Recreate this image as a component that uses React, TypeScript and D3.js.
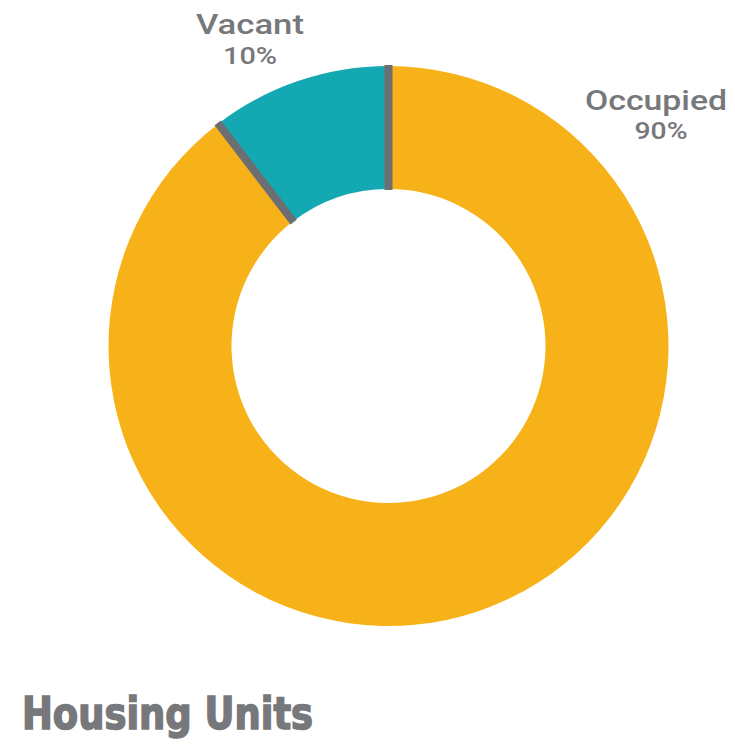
import React from "react";
import * as d3 from "d3";

const categories = ["Occupied", "Vacant"];
const values = [89.6, 10.4];
const percentLabels = ["90%", "10%"];
const colors = ["#F8B219", "#14A9B2"];
const title = "Housing Units";

export default function App() {
  const W = 735, H = 747;
  const cx = 388.5, cy = 346, rOuter = 280, rInner = 157;
  const pie = d3.pie<number>().sort(null).value((d) => d)(values);
  const arc = d3.arc<d3.PieArcDatum<number>>().innerRadius(rInner).outerRadius(rOuter);
  const labelPos = [
    { x: 656, y: 110, px: 661, py: 139, w: 142, pw: 53 },
    { x: 250, y: 34, px: 250, py: 64, w: 108, pw: 54 },
  ];
  const sepAngles = pie.map((p) => p.startAngle);
  return (
    <svg width={W} height={H} style={{ position: "absolute", left: 0, top: 0, background: "#fff" }}>
      <g transform={`translate(${cx},${cy})`}>
        {pie.map((p, i) => (
          <path key={i} d={arc(p) || ""} fill={colors[i]} />
        ))}
        {sepAngles.map((a, i) => (
          <line
            key={i}
            x1={Math.sin(a) * (rInner - 1)}
            y1={-Math.cos(a) * (rInner - 1)}
            x2={Math.sin(a) * (rOuter + 1)}
            y2={-Math.cos(a) * (rOuter + 1)}
            stroke="#6D6E71"
            strokeWidth={8}
          />
        ))}
      </g>
      {categories.map((c, i) => (
        <g key={c} fill="#77787B" fontFamily="Roboto, sans-serif" fontWeight={500}>
          <text
            x={labelPos[i].x}
            y={labelPos[i].y}
            textAnchor="middle"
            fontSize={28}
            textLength={labelPos[i].w}
            lengthAdjust="spacingAndGlyphs"
          >
            {c}
          </text>
          <text
            x={labelPos[i].px}
            y={labelPos[i].py}
            textAnchor="middle"
            fontSize={24}
            textLength={labelPos[i].pw}
            lengthAdjust="spacingAndGlyphs"
          >
            {percentLabels[i]}
          </text>
        </g>
      ))}
      <text
        x={22}
        y={729}
        fontFamily="'DejaVu Sans Condensed', 'DejaVu Sans', sans-serif"
        fontWeight={700}
        fontSize={44}
        fill="#77787B"
        stroke="#77787B"
        strokeWidth={1.5}
        textLength={291}
        lengthAdjust="spacingAndGlyphs"
      >
        {title}
      </text>
    </svg>
  );
}
